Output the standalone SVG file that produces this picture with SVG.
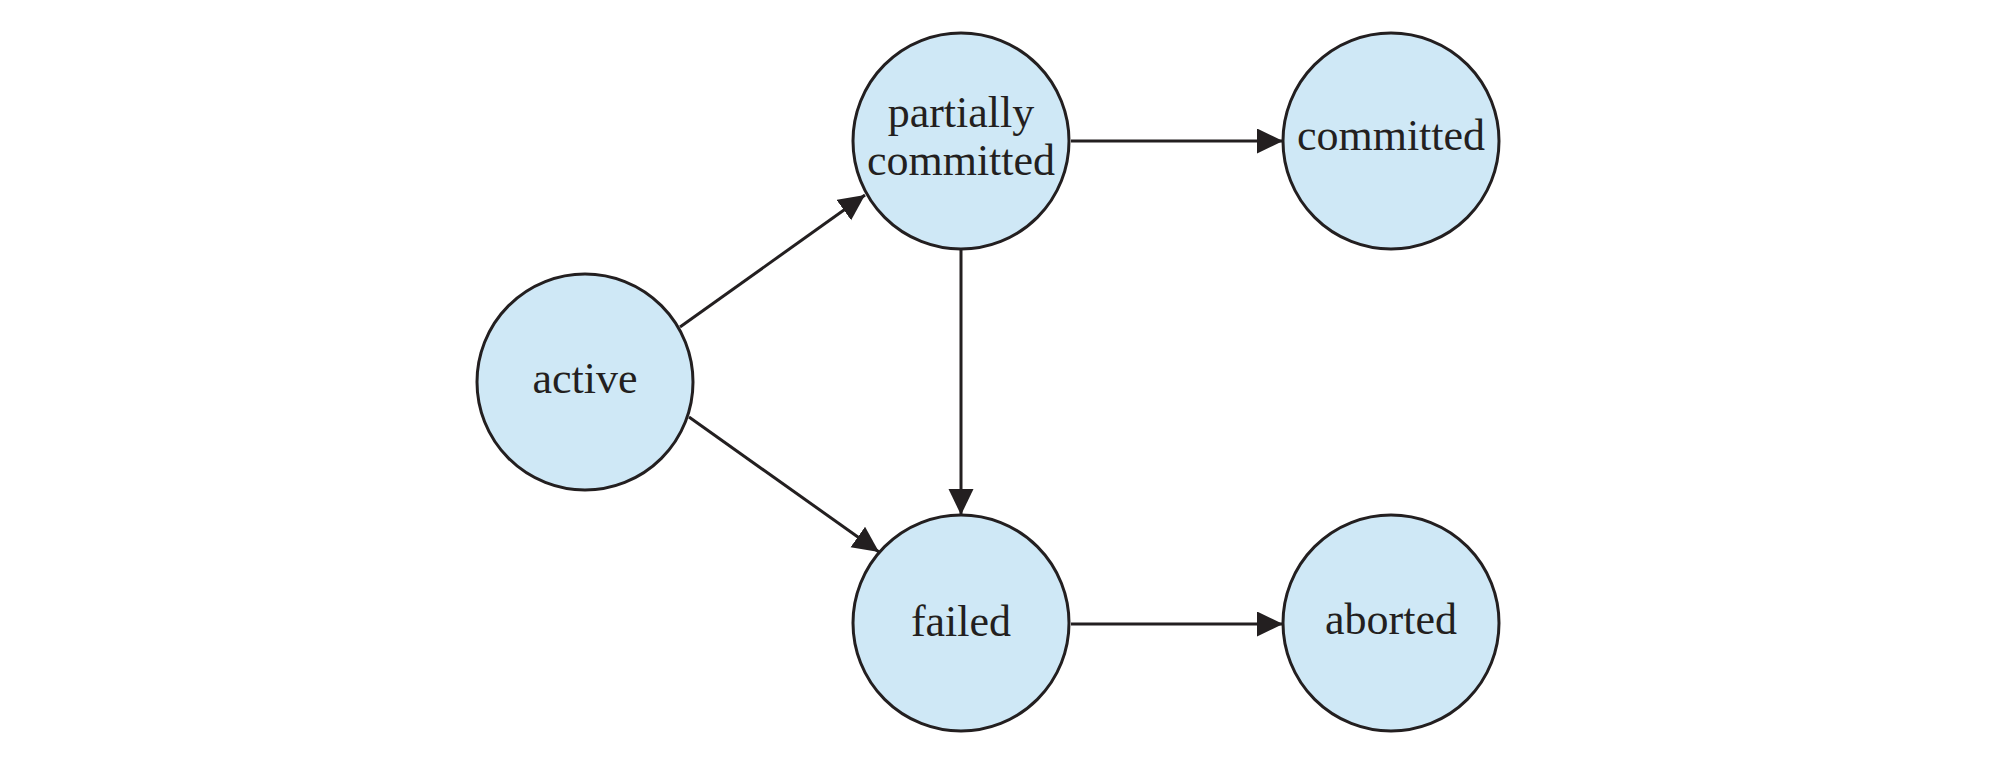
<svg xmlns="http://www.w3.org/2000/svg" width="2004" height="760" viewBox="0 0 2004 760">
<defs>
<style>
.node circle{fill:#cfe8f6;stroke:#231f20;stroke-width:3}
.node text{font-family:"Liberation Serif","Times New Roman",serif;font-size:44px;fill:#231f20;text-anchor:middle}
.edge{stroke:#231f20;stroke-width:3;fill:none;marker-end:url(#arr)}
</style>
<marker id="arr" markerUnits="userSpaceOnUse" markerWidth="28" markerHeight="26" refX="26" refY="12.5" orient="auto">
<path d="M0,0 L26,12.5 L0,25 Z" fill="#231f20"/>
</marker>
</defs>
<rect width="2004" height="760" fill="#ffffff"/>
<g id="connectors">
<line class="edge" x1="680" y1="327" x2="865" y2="195"/>
<line class="edge" x1="689" y1="417" x2="879" y2="552"/>
<line class="edge" x1="961" y1="250" x2="961" y2="515"/>
<line class="edge" x1="1071" y1="141" x2="1283" y2="141"/>
<line class="edge" x1="1071" y1="624" x2="1283" y2="624"/>
</g>
<g id="active" class="node"><circle cx="585" cy="382" r="108"/><text x="585" y="393">active</text></g>
<g id="partially_committed" class="node"><circle cx="961" cy="141" r="108"/><text x="961" y="127">partially</text><text x="961" y="175">committed</text></g>
<g id="committed" class="node"><circle cx="1391" cy="141" r="108"/><text x="1391" y="150">committed</text></g>
<g id="failed" class="node"><circle cx="961" cy="623" r="108"/><text x="961" y="636">failed</text></g>
<g id="aborted" class="node"><circle cx="1391" cy="623" r="108"/><text x="1391" y="634">aborted</text></g>
</svg>
